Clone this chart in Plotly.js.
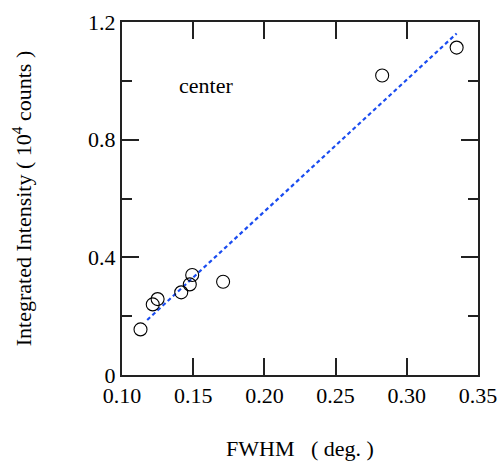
<!DOCTYPE html>
<html>
<head>
<meta charset="utf-8">
<script src="https://cdn.plot.ly/plotly-3.0.1.min.js"></script>
<style>html,body{margin:0;padding:0;background:#fff;}#chart{width:499px;height:461px;}</style>
</head>
<body>
<div id="chart"></div>
<script>
// measured data (FWHM in deg., integrated intensity in 10^4 counts)
const fwhm = [0.113, 0.1216, 0.125, 0.1416, 0.1476, 0.1493, 0.171, 0.2827, 0.335];
const intensity = [0.155, 0.240, 0.258, 0.281, 0.308, 0.340, 0.317, 1.018, 1.113];
// linear fit line endpoints
const fitX = [0.1177, 0.335];
const fitY = [0.187, 1.161];
const xTickVals = [0.10, 0.15, 0.20, 0.25, 0.30, 0.35];
const xTickText = ['0.10', '0.15', '0.20', '0.25', '0.30', '0.35'];
const yTickVals = [0, 0.4, 0.8, 1.2];
const yTickText = ['0', '0.4', '0.8', '1.2'];

const font = 'Liberation Serif';

const traces = [
  {
    x: fitX, y: fitY, type: 'scatter', mode: 'lines',
    line: {color: '#1a4cf0', width: 2.2, dash: '4px,3px'},
    hoverinfo: 'skip', showlegend: false
  },
  {
    x: fwhm, y: intensity, type: 'scatter', mode: 'markers',
    marker: {symbol: 'circle-open', size: 13, color: '#000', line: {width: 1.1, color: '#000'}},
    showlegend: false
  }
];

const layout = {
  width: 499, height: 461,
  margin: {l: 121.5, r: 21.3, t: 21.7, b: 86},
  paper_bgcolor: '#fff', plot_bgcolor: '#fff',
  font: {family: font, size: 22, color: '#000'},
  showlegend: false,
  xaxis: {
    range: [0.10, 0.35], tickmode: 'array', tickvals: xTickVals, ticktext: xTickText,
    ticks: 'inside', ticklen: 17, tickwidth: 2, tickcolor: '#222',
    showline: true, linecolor: '#222', linewidth: 2, mirror: 'ticks',
    showgrid: false, zeroline: false,
    tickfont: {family: font, size: 22, color: '#000'},
    title: {text: 'FWHM   ( deg. )', font: {family: font, size: 22, color: '#000'}, standoff: 35}
  },
  yaxis: {
    range: [0, 1.2], tickmode: 'array', tickvals: yTickVals, ticktext: yTickText,
    ticks: 'inside', ticklen: 17, tickwidth: 2, tickcolor: '#222',
    showline: true, linecolor: '#222', linewidth: 2, mirror: 'ticks',
    showgrid: false, zeroline: false,
    minor: {dtick: 0.2, ticks: 'inside', ticklen: 10, tickwidth: 2, tickcolor: '#222', showgrid: false},
    tickfont: {family: font, size: 22, color: '#000'},
    title: {text: 'Integrated Intensity ( 10<sup>4</sup> counts )', font: {family: font, size: 22, color: '#000'}, standoff: 50}
  },
  annotations: [
    {x: 0.159, y: 0.985, xref: 'x', yref: 'y', text: 'center', showarrow: false,
     font: {family: font, size: 22, color: '#000'}}
  ]
};

Plotly.newPlot('chart', traces, layout, {displayModeBar: false, staticPlot: true});
</script>
</body>
</html>
